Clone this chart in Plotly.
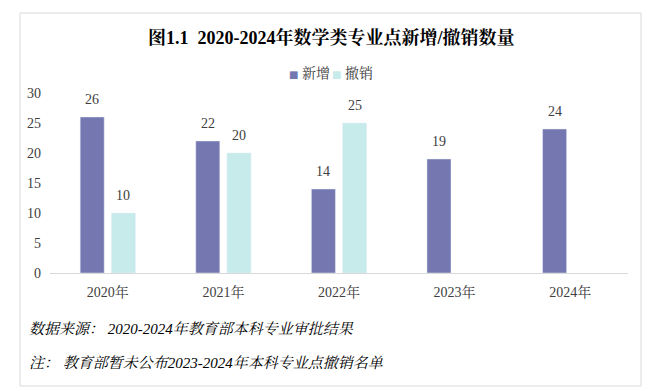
import plotly.graph_objects as go

years = ["2020年", "2021年", "2022年", "2023年", "2024年"]
added = [26, 22, 14, 19, 24]
removed = [10, 20, 25, None, None]

series = [("新增", added, "#7477B0"), ("撤销", removed, "#C6EBEA")]

W, H = 652, 391
ML, MR, MT, MB = 50, 24, 93, 118
pw, ph = W - ML - MR, H - MT - MB

def px(x):
    return (x - ML) / pw

def py(y):
    return (H - MB - y) / ph

serif = "Liberation Serif, Times New Roman, Noto Serif CJK SC, Noto Sans CJK SC, serif"
BARGAP, GROUPGAP = 0.46, 0.23
slot_px = pw / len(years) * (1 - BARGAP) / len(series)

fig = go.Figure()
annotations = []
for i, (name, vals, color) in enumerate(series):
    fig.add_trace(go.Bar(x=years, y=vals, name=name, marker_color=color, showlegend=False))
    for yr, v in zip(years, vals):
        if v is None:
            continue
        annotations.append(dict(
            x=yr, y=v, xref="x", yref="y", text=str(v), showarrow=False,
            xanchor="center", yanchor="bottom",
            xshift=(i - (len(series) - 1) / 2) * slot_px, yshift=8,
            font=dict(family=serif, size=14, color="#404040")))

# legend drawn as annotations
leg_x = [287, 330]
for (name, vals, color), lx in zip(series, leg_x):
    annotations.append(dict(
        xref="paper", yref="paper", x=px(lx), y=py(73), xanchor="left", yanchor="middle",
        showarrow=False,
        text=f"<span style='color:{color};font-family:DejaVu Sans;font-size:10px'>■</span> {name}",
        font=dict(family=serif, size=14, color="#404040")))

annotations += [
    dict(text="<b>图1.1  2020-2024年数学类专业点新增/撤销数量</b>", xref="paper", yref="paper",
         x=px(331), y=py(37), xanchor="center", yanchor="middle", showarrow=False,
         font=dict(family=serif, size=18, color="#000000")),
    dict(text="<i>数据来源： 2020-2024年教育部本科专业审批结果</i>", xref="paper", yref="paper",
         x=px(27), y=py(329), xanchor="left", yanchor="middle", showarrow=False,
         font=dict(family=serif, size=15, color="#000000")),
    dict(text="<i>注： 教育部暂未公布2023-2024年本科专业点撤销名单</i>", xref="paper", yref="paper",
         x=px(27), y=py(363), xanchor="left", yanchor="middle", showarrow=False,
         font=dict(family=serif, size=15, color="#000000")),
]

fig.update_layout(
    width=W, height=H,
    margin=dict(l=ML, r=MR, t=MT, b=MB, autoexpand=False),
    paper_bgcolor="white", plot_bgcolor="white",
    barmode="group", bargap=BARGAP, bargroupgap=GROUPGAP,
    font=dict(family=serif, size=13, color="#404040"),
    showlegend=False,
    xaxis=dict(showgrid=False, showline=True, linecolor="#D9D9D9", linewidth=1,
               ticks="", ticklabelstandoff=6,
               tickfont=dict(family=serif, size=14, color="#404040")),
    yaxis=dict(range=[0, 30], dtick=5, showgrid=False, showline=False, zeroline=False,
               ticks="", ticklabelstandoff=8,
               tickfont=dict(family=serif, size=14, color="#404040")),
    shapes=[dict(type="rect", xref="paper", yref="paper",
                 x0=px(20), x1=px(641), y0=py(386), y1=py(13),
                 line=dict(color="#D9D9D9", width=1), fillcolor="rgba(0,0,0,0)",
                 layer="below")],
    annotations=annotations,
)

fig.write_html("out.html", config={"displayModeBar": False},
               post_script="document.body.style.margin='0';")
